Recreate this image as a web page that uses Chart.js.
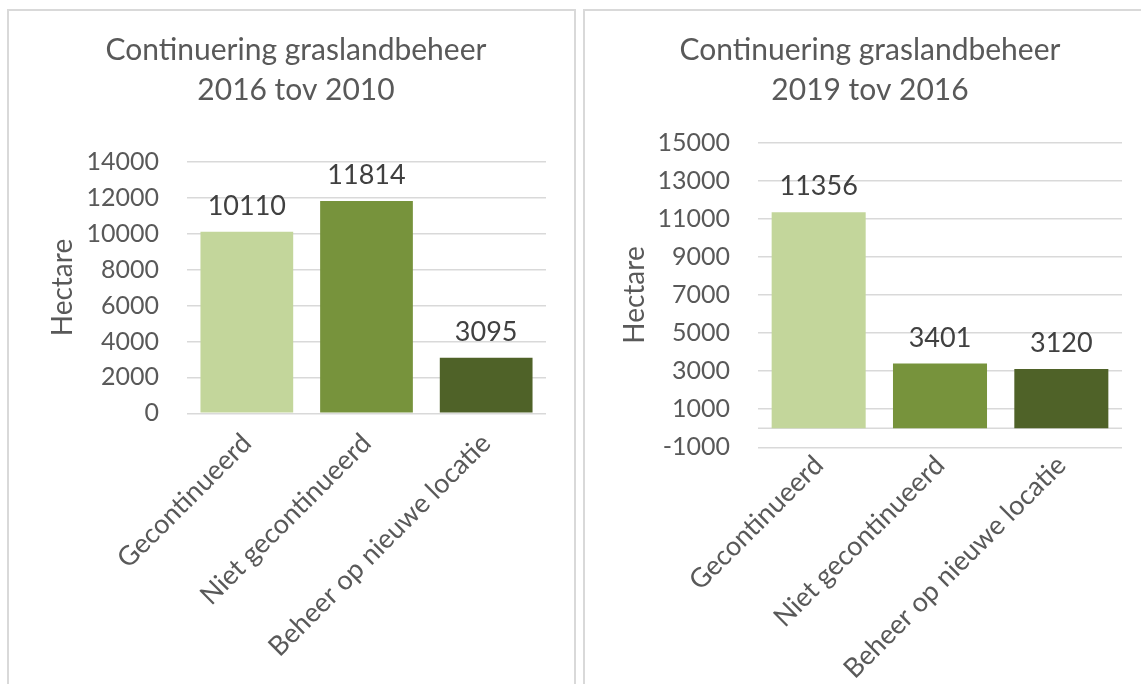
<!DOCTYPE html>
<html>
<head>
<meta charset="utf-8">
<script src="https://cdn.jsdelivr.net/npm/chart.js@4.4.1/dist/chart.umd.min.js"></script>
<style>
    body { margin: 0; background: #fff; width: 1141px; height: 684px; overflow: hidden; position: relative; }
    .panel { position: absolute; top: 9px; height: 740px; border: 2px solid #d9d9d9; box-sizing: border-box; background: #fff; }
    #panelLeft { left: 7px; width: 569px; }
    #panelRight { left: 583px; width: 580px; }
    canvas { position: absolute; }
    #chartLeft { left: 9px; top: 11px; }
    #chartRight { left: 585px; top: 11px; }
</style>
</head>
<body>
<div class="panel" id="panelLeft"></div>
<div class="panel" id="panelRight"></div>
<canvas id="chartLeft" width="565" height="720"></canvas>
<canvas id="chartRight" width="556" height="720"></canvas>
<script>
// Gegevens
const categories = ['Gecontinueerd', 'Niet gecontinueerd', 'Beheer op nieuwe locatie'];
const values2016 = [10110, 11814, 3095];
const values2019 = [11356, 3401, 3120];
const titleLeft = ['Continuering graslandbeheer', '2016 tov 2010'];
const titleRight = ['Continuering graslandbeheer', '2019 tov 2016'];
const axisLeft = { min: 0, max: 14000, step: 2000 };
const axisRight = { min: -1000, max: 15000, step: 2000 };
const barColors = ['#C3D69B', '#77933C', '#4F6228'];

const FONT = 'Lato, "Open Sans", sans-serif';
const GREY = '#595959';

// Waarden boven de staven
const valueLabels = {
    id: 'valueLabels',
    afterDatasetsDraw(chart) {
        const ctx = chart.ctx;
        const meta = chart.getDatasetMeta(0);
        ctx.save();
        ctx.font = '27px ' + FONT;
        ctx.fillStyle = '#404040';
        ctx.textAlign = 'center';
        ctx.textBaseline = 'bottom';
        meta.data.forEach((bar, i) => {
            ctx.fillText(String(chart.data.datasets[0].data[i]), bar.x, bar.y - 12);
        });
        ctx.restore();
    }
};

// Horizontale as op nul
const zeroLine = {
    id: 'zeroLine',
    beforeDatasetsDraw(chart) {
        const y = chart.scales.y;
        if (y.min >= 0) return;
        const py = y.getPixelForValue(0);
        const ctx = chart.ctx;
        ctx.save();
        ctx.strokeStyle = '#d9d9d9';
        ctx.lineWidth = 1.5;
        ctx.beginPath();
        ctx.moveTo(chart.chartArea.left, py);
        ctx.lineTo(chart.chartArea.right, py);
        ctx.stroke();
        ctx.restore();
    }
};

function makeChart(canvasId, title, values, axis, pad, titleGap, axisWidth, labelGap) {
    const ctx = document.getElementById(canvasId).getContext('2d');
    return new Chart(ctx, {
        type: 'bar',
        data: {
            labels: categories,
            datasets: [{
                data: values,
                backgroundColor: barColors,
                borderWidth: 0,
                barPercentage: 0.775,
                categoryPercentage: 1
            }]
        },
        options: {
            responsive: false,
            animation: false,
            layout: { padding: pad },
            plugins: {
                legend: { display: false },
                tooltip: { enabled: false },
                title: {
                    display: true,
                    text: title,
                    color: GREY,
                    font: { family: FONT, size: 30, weight: 'normal', lineHeight: 1.33 },
                    padding: { top: 19, bottom: titleGap }
                }
            },
            scales: {
                x: {
                    grid: { display: false },
                    border: { display: false },
                    ticks: {
                        color: GREY,
                        font: { family: FONT, size: 27 },
                        minRotation: 45,
                        maxRotation: 45,
                        padding: labelGap,
                        autoSkip: false
                    }
                },
                y: {
                    min: axis.min,
                    max: axis.max,
                    grid: { color: '#d9d9d9', lineWidth: 1.5, drawTicks: false },
                    border: { display: false },
                    afterFit: function(scale) { scale.width = axisWidth; },
                    ticks: {
                        stepSize: axis.step,
                        color: GREY,
                        font: { family: FONT, size: 25 },
                        padding: 28,
                        callback: function(value) { return String(value); }
                    },
                    title: {
                        display: true,
                        text: 'Hectare',
                        color: GREY,
                        font: { family: FONT, size: 28 },
                        padding: { top: 0, bottom: 8 }
                    }
                }
            }
        },
        plugins: [zeroLine, valueLabels]
    });
}

makeChart('chartLeft', titleLeft, values2016, axisLeft, { left: 37, right: 28, bottom: 62, top: 0 }, 52, 141, 6);
makeChart('chartRight', titleRight, values2019, axisRight, { left: 33, right: 19, bottom: 52, top: 0 }, 33, 140, -6);
</script>
</body>
</html>
